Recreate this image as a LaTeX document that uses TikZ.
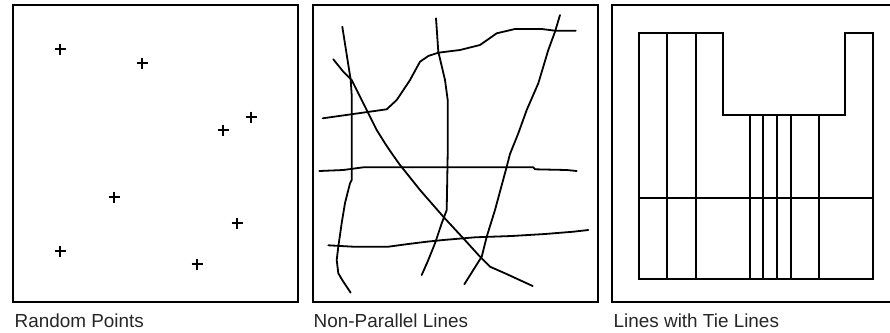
\documentclass[tikz,border=0pt]{standalone}
\usepackage{fontspec}
\setmainfont{Liberation Sans}
\begin{document}
\begin{tikzpicture}[x=1pt,y=-1pt,
  frame/.style={draw=black,line width=2pt},
  wavy/.style={draw=black,line width=1.8pt,line join=round,line cap=round},
  grid3/.style={draw=black,line width=2pt},
  cross/.style={draw=black,line width=2pt},
  lbl/.style={anchor=base west,inner sep=0pt,font=\fontsize{18.9}{21}\selectfont,text=black!85}]
\useasboundingbox (0,0) rectangle (890,332);
\begin{scope}
\clip (0,0) rectangle (890,332);
% Panel 1
\draw[frame] (13,5) rectangle (298,302);
\foreach \px/\py in {60/49,142/63,251/117,223/130,114/197,237/223,60/251,197/264}{
  \draw[cross] (\px-5.5,\py) -- (\px+5.5,\py) (\px,\py-5.5) -- (\px,\py+5.5);
}
\node[lbl] (t1) at (14.5,327) {Random Points};
% Panel 2
\draw[frame] (313,5) rectangle (598,302);
\draw[wavy] (342.3,26.7) -- (350.7,80) -- (351.7,95) -- (351.7,180) -- (350,183.3) -- (345,203) -- (341.7,223) -- (338.3,246.7) -- (336.7,260) -- (338.3,273.3) -- (343.3,281.7) -- (350.7,292.7);
\draw[wavy] (333.3,59.3) -- (343.3,71.7) -- (351.7,80) -- (360,96.7) -- (368.3,113.3) -- (376.7,130) -- (385,143.3) -- (391.7,153.3) -- (400,165) -- (420,190) -- (443.3,216.7) -- (463.3,238.3) -- (480,256.7) -- (490,266.7) -- (505,273.3) -- (532.7,286);
\draw[wavy] (322.7,118.3) -- (353.3,114) -- (386.7,109.3) -- (396.7,100) -- (410,80) -- (420,61.7) -- (428.3,56) -- (438.3,52.7) -- (460,50) -- (480,45) -- (496.7,33.3) -- (515,29) -- (541.7,29) -- (555,30.7) -- (575.7,30.7);
\draw[wavy] (436,18.3) -- (438.3,51.7) -- (445,80) -- (447.7,100) -- (447.7,153.3) -- (446.7,210) -- (441.7,223.3) -- (435,243.3) -- (428.3,260) -- (421.7,275);
\draw[wavy] (560,15) -- (555,31.7) -- (548.3,50) -- (538.3,83.3) -- (526.7,110) -- (518.3,133.3) -- (510,154) -- (506.7,166.7) -- (495,210) -- (486.7,236.7) -- (481.7,256.7) -- (473.3,270) -- (464.3,284.3);
\draw[wavy] (319.3,171) -- (343.3,170) -- (363.3,167.3) -- (533.3,167.3) -- (535,169.3) -- (566.7,170) -- (576.7,171);
\draw[wavy] (328.3,245.3) -- (353.3,246.7) -- (388.3,246.7) -- (408.3,244) -- (426.7,241.7) -- (443.3,240) -- (475,237.3) -- (511.7,236) -- (545,234) -- (573.3,231.7) -- (588.3,230);
\node[lbl] (t2) at (313.5,327) {Non-Parallel Lines};
% Panel 3
\draw[frame] (612,5) rectangle (900,302);
\draw[grid3] (639,33) -- (723,33) -- (723,115) -- (845,115) -- (845,33) -- (873,33) -- (873,279) -- (639,279) -- cycle;
\draw[grid3] (639,198) -- (873,198);
\foreach \vx in {667,696}{ \draw[grid3] (\vx,33) -- (\vx,279); }
\foreach \vx in {750,763,777,791,819}{ \draw[grid3] (\vx,115) -- (\vx,279); }
\node[lbl] (t3) at (613.5,327) {Lines with Tie Lines};
\end{scope}
\end{tikzpicture}
\end{document}
